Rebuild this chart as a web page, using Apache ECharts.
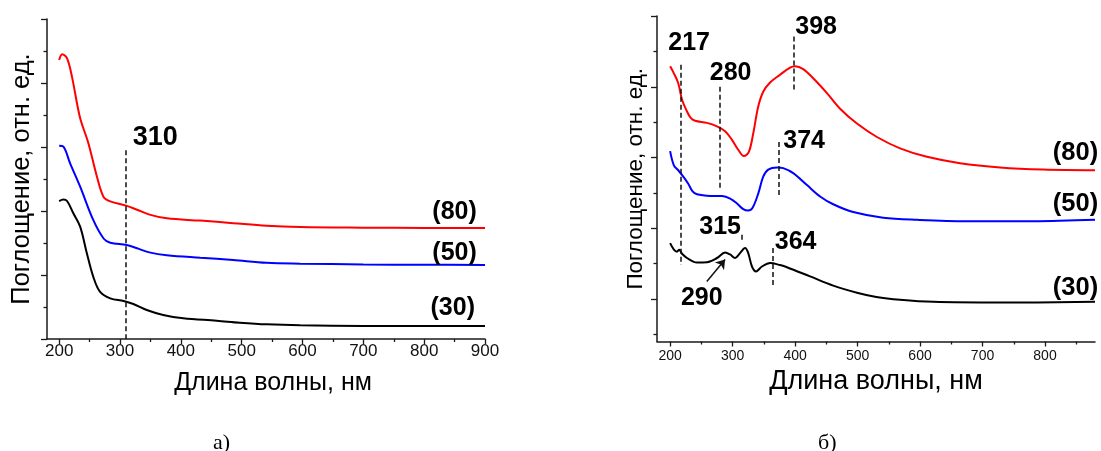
<!DOCTYPE html>
<html>
<head>
<meta charset="utf-8">
<script src="https://cdn.jsdelivr.net/npm/echarts@6/dist/echarts.min.js"></script>
<style>
  html, body { margin: 0; padding: 0; background: #fff; }
  #chart { width: 1101px; height: 451px; }
</style>
</head>
<body>
<div id="chart"></div>
<script>
// ---- Panel (а): absorption spectra, samples 30 / 50 / 80 ----
const aWl80 = [200, 205, 213, 221, 234, 248, 262, 273, 284, 311, 328, 350, 377, 432, 486, 541, 596, 700, 800, 900];
const aAbs80 = [4.36, 4.45, 4.385, 4.10, 3.47, 3.06, 2.54, 2.22, 2.15, 2.08, 2.02, 1.94, 1.885, 1.85, 1.81, 1.77, 1.75, 1.74, 1.735, 1.734];

const aWl50 = [200, 207, 218, 234.5, 256, 273, 284, 311, 328, 350, 377, 432, 486, 541, 596, 700, 800, 900];
const aAbs50 = [3.02, 3.005, 2.745, 2.38, 1.86, 1.57, 1.505, 1.47, 1.417, 1.35, 1.31, 1.27, 1.234, 1.19, 1.177, 1.165, 1.16, 1.156];

const aWl30 = [200, 207, 213, 223.5, 234.5, 245.5, 256, 267, 284, 306, 322, 344, 371, 404, 459, 497, 541, 596, 700, 800, 900];
const aAbs30 = [2.156, 2.18, 2.156, 1.96, 1.755, 1.34, 0.974, 0.74, 0.635, 0.594, 0.547, 0.453, 0.375, 0.323, 0.286, 0.255, 0.229, 0.214, 0.205, 0.203, 0.203];

// ---- Panel (б) ----
const bWl80 = [200, 206, 213, 219, 226, 233, 240, 259, 275, 288, 299, 309, 318, 326, 333, 341, 349, 360, 376, 392, 400, 413, 429, 451, 472, 499, 531, 568, 611, 664, 728, 797, 880];
const bAbs80 = [4.29, 4.19, 4.05, 3.82, 3.67, 3.56, 3.52, 3.49, 3.44, 3.37, 3.25, 3.11, 3.02, 3.08, 3.34, 3.72, 3.93, 4.06, 4.17, 4.27, 4.29, 4.25, 4.12, 3.91, 3.69, 3.48, 3.29, 3.13, 3.01, 2.92, 2.86, 2.83, 2.82];

const bWl50 = [200, 206, 213, 221, 229, 236, 243, 259, 283, 296, 307, 317, 325, 332, 341, 349, 357, 371, 381, 397, 419, 440, 461, 493, 541, 595, 675, 781, 880];
const bAbs50 = [3.09, 2.89, 2.82, 2.73, 2.63, 2.52, 2.48, 2.46, 2.455, 2.42, 2.35, 2.27, 2.25, 2.29, 2.49, 2.73, 2.83, 2.86, 2.85, 2.78, 2.61, 2.45, 2.34, 2.23, 2.15, 2.12, 2.10, 2.10, 2.12];

const bWl30 = [200, 206, 211, 214.5, 219, 227, 237, 243, 259, 275, 288, 296, 304, 312, 320, 325, 331, 337.5, 347, 360, 376, 387, 424, 461, 499, 530, 568, 621, 728, 880];
const bAbs30 = [1.79, 1.70, 1.67, 1.695, 1.64, 1.58, 1.53, 1.515, 1.52, 1.58, 1.657, 1.63, 1.58, 1.65, 1.72, 1.65, 1.46, 1.39, 1.46, 1.51, 1.48, 1.45, 1.32, 1.19, 1.09, 1.03, 0.99, 0.96, 0.95, 0.96];

// Peak markers: wavelength, dashed line from / to (absorbance)
const aMarkWl = [310];
const aMarkFrom = [2.95];
const aMarkTo = [0];

const bMarkWl = [217, 280, 398, 374, 315, 364];
const bMarkFrom = [4.31, 4.00, 4.71, 3.22, 1.91, 1.72];
const bMarkTo = [1.48, 2.57, 3.95, 2.47, 1.81, 1.17];

// Text labels: text, x (nm), y (absorbance)
const aLabelText = ['310', '(80)', '(50)', '(30)'];
const aLabelX = [358, 850, 850, 847];
const aLabelY = [3.14, 1.98, 1.34, 0.48];
const aLabelSize = [27, 25, 25, 25];

const bLabelText = ['217', '280', '398', '374', '315', '364', '290', '(80)', '(50)', '(30)'];
const bLabelX = [230.4, 296.8, 433.6, 414.4, 280, 400.8, 250.7, 848.8, 848.8, 848.8];
const bLabelY = [4.61, 4.19, 4.85, 3.23, 2.01, 1.81, 1.02, 3.065, 2.35, 1.16];
const bLabelSize = [25, 25, 25, 25, 25, 25, 25, 25.5, 25.5, 25.5];

// Arrow pointing to the 290 nm band
const bArrowFrom = [258.7, 1.247];
const bArrowTo = [288, 1.56];

// Axis ticks
const aTicksMajor = [200, 300, 400, 500, 600, 700, 800, 900];
const aTicksMinor = [250, 350, 450, 550, 650, 750, 850];
const bTicksMajor = [200, 300, 400, 500, 600, 700, 800];
const bTicksMinor = [250, 350, 450, 550, 650, 750, 850];
const aYMajor = [0, 1, 2, 3, 4, 5];
const aYMinor = [0.5, 1.5, 2.5, 3.5, 4.5];
const bYMajor = [1, 2, 3, 4, 5];
const bYMinor = [0.5, 1.5, 2.5, 3.5, 4.5];

const FONT = 'Liberation Sans, Arial, sans-serif';
const AX = '#1a1a1a';

function zip(xs, ys) { return xs.map((x, i) => [x, ys[i]]); }

function curve(xs, ys, color, gi) {
  return {
    type: 'line', xAxisIndex: gi * 2, yAxisIndex: gi * 2,
    data: zip(xs, ys), smooth: 0.35, symbol: 'none',
    lineStyle: { color: color, width: 2 }, silent: true, z: 3
  };
}

function dashed(xs, from, to, gi) {
  return {
    type: 'line', xAxisIndex: gi * 2, yAxisIndex: gi * 2,
    data: [], silent: true,
    markLine: {
      symbol: 'none', silent: true, animation: false,
      lineStyle: { type: [5, 3], color: '#111', width: 1.5 },
      label: { show: false },
      data: xs.map((x, i) => [{ coord: [x, from[i]] }, { coord: [x, to[i]] }])
    }
  };
}

function labels(txt, xs, ys, sizes, gi) {
  return {
    type: 'scatter', xAxisIndex: gi * 2, yAxisIndex: gi * 2,
    symbolSize: 1, itemStyle: { color: 'rgba(255,255,255,0)' }, silent: true, z: 5,
    data: txt.map((t, i) => ({
      value: [xs[i], ys[i]],
      label: {
        show: true, position: 'inside', formatter: t, opacity: 1,
        fontFamily: FONT, fontWeight: 'bold', fontSize: sizes[i], color: '#000',
        textBorderWidth: 0, align: 'center', verticalAlign: 'middle'
      }
    }))
  };
}

function xMain(gi, min, max, ticks, fs, margin, gap, nameFs, pad) {
  return {
    type: 'value', gridIndex: gi, min: min, max: max, position: 'bottom',
    name: 'Длина волны, нм', nameLocation: 'middle', nameGap: gap,
    nameTextStyle: { fontFamily: FONT, fontSize: nameFs, color: '#000', padding: pad },
    axisLine: { show: true, onZero: false, lineStyle: { color: AX, width: 1.5 } },
    axisTick: { show: true, inside: false, length: 5, customValues: ticks, lineStyle: { color: AX, width: 1.3 } },
    axisLabel: { show: true, customValues: ticks, fontFamily: FONT, fontSize: fs, color: '#111', margin: margin },
    splitLine: { show: false }
  };
}
function xMinor(gi, min, max, ticks) {
  return {
    type: 'value', gridIndex: gi, min: min, max: max, position: 'bottom', offset: 0,
    axisLine: { show: false, onZero: false },
    axisTick: { show: true, inside: false, length: 3, customValues: ticks, lineStyle: { color: AX, width: 1.3 } },
    axisLabel: { show: false }, splitLine: { show: false }
  };
}
function yMain(gi, min, max, ticks, gap, fs) {
  return {
    type: 'value', gridIndex: gi, min: min, max: max, position: 'left',
    name: 'Поглощение, отн. ед.', nameLocation: 'middle', nameRotate: 90, nameGap: gap,
    nameTextStyle: { fontFamily: FONT, fontSize: fs, color: '#000' },
    axisLine: { show: true, onZero: false, lineStyle: { color: AX, width: 1.5 } },
    axisTick: { show: true, inside: false, length: 6, customValues: ticks, lineStyle: { color: AX, width: 1.3 } },
    axisLabel: { show: false }, splitLine: { show: false }
  };
}
function yMinor(gi, min, max, ticks) {
  return {
    type: 'value', gridIndex: gi, min: min, max: max, position: 'left', offset: 0,
    axisLine: { show: false, onZero: false },
    axisTick: { show: true, inside: false, length: 3.5, customValues: ticks, lineStyle: { color: AX, width: 1.3 } },
    axisLabel: { show: false }, splitLine: { show: false }
  };
}

const SERIF = 'Liberation Serif, Times New Roman, serif';
const chart = echarts.init(document.getElementById('chart'), null, { renderer: 'canvas' });
chart.setOption({
  animation: false,
  backgroundColor: '#fff',
  title: [
    { text: 'а)', left: 208, top: 427, textStyle: { fontFamily: SERIF, fontWeight: 'normal', fontSize: 22, color: '#000' } },
    { text: 'б)', left: 813, top: 427, textStyle: { fontFamily: SERIF, fontWeight: 'normal', fontSize: 22, color: '#000' } }
  ],
  grid: [
    { left: 47, top: 19, width: 438, height: 320 },
    { left: 657, top: 16, width: 438, height: 325.5 }
  ],
  xAxis: [
    xMain(0, 180, 900, aTicksMajor, 17, 4, 32, 25, [0, 0, 0, 14]),
    xMinor(0, 180, 900, aTicksMinor),
    xMain(1, 179, 880, bTicksMajor, 14, 8, 27, 27, [0, 0, 0, 0]),
    xMinor(1, 179, 880, bTicksMinor)
  ],
  yAxis: [
    yMain(0, 0, 5, aYMajor, 12, 25.5),
    yMinor(0, 0, 5, aYMinor),
    yMain(1, 0.4, 5, bYMajor, 10, 22.5),
    yMinor(1, 0.4, 5, bYMinor)
  ],
  series: [
    curve(aWl80, aAbs80, '#ff0000', 0),
    curve(aWl50, aAbs50, '#0000ff', 0),
    curve(aWl30, aAbs30, '#000000', 0),
    curve(bWl80, bAbs80, '#ff0000', 1),
    curve(bWl50, bAbs50, '#0000ff', 1),
    curve(bWl30, bAbs30, '#000000', 1),
    dashed(aMarkWl, aMarkFrom, aMarkTo, 0),
    dashed(bMarkWl, bMarkFrom, bMarkTo, 1),
    labels(aLabelText, aLabelX, aLabelY, aLabelSize, 0),
    labels(bLabelText, bLabelX, bLabelY, bLabelSize, 1),
    {
      type: 'line', xAxisIndex: 2, yAxisIndex: 2, data: [], silent: true,
      markLine: {
        symbol: ['none', 'arrow'], symbolSize: 9, silent: true, animation: false,
        lineStyle: { type: 'solid', color: '#111', width: 1.5 },
        label: { show: false },
        data: [[{ coord: bArrowFrom }, { coord: bArrowTo }]]
      }
    }
  ]
});
</script>
</body>
</html>
